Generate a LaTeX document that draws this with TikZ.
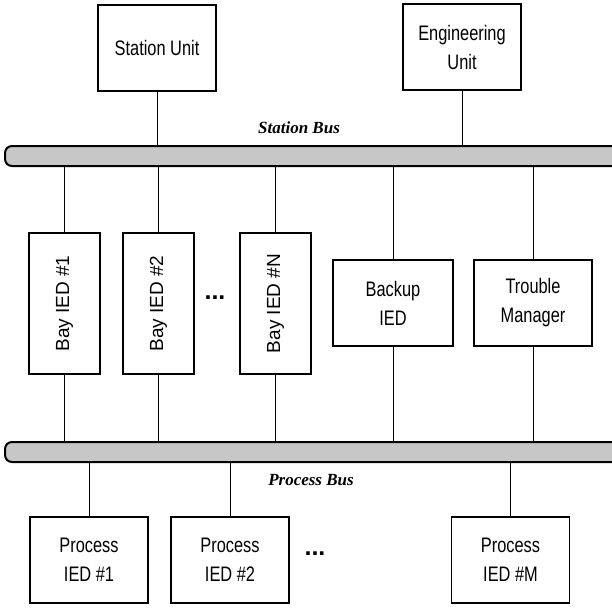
\documentclass[tikz,border=0pt]{standalone}
\usepackage{fontspec}
\setmainfont{Liberation Sans}
\newfontfamily\narrowsf[FakeStretch=0.78]{Liberation Sans}
\newfontfamily\busserif{Liberation Serif}
\usetikzlibrary{positioning}

\begin{document}
\begin{tikzpicture}[
  x=1pt, y=-1pt,
  font=\narrowsf\fontsize{21}{29}\selectfont,
  unit/.style={draw=black, line width=1.1pt, fill=white, minimum width=118pt,
               minimum height=86pt, inner sep=2pt, align=center},
  bay/.style={unit, minimum width=71pt, minimum height=141pt,
              font=\normalfont\fontsize{19}{22}\selectfont},
  bus/.style={draw=black, line width=2pt, fill=black!22, rounded corners=7pt,
              minimum height=20pt, minimum width=615pt, inner sep=0pt},
  link/.style={draw=black, line width=0.7pt},
  busname/.style={font=\busserif\bfseries\itshape\fontsize{17}{20}\selectfont},
  more/.style={font=\normalfont\bfseries\fontsize{25}{25}\selectfont}
]
\useasboundingbox (0,0) rectangle (612,607);

% ================================================= 1. station level
\node[unit] (su) at (157, 48) {Station Unit};
\node[unit] (eu) at (462, 47) {Engineering\\ Unit};
\node[bus] (sbus) at (312.5, 156) {};
\node[busname] (sbusname) at (299, 128) {Station Bus};
\draw[link] (su) -- (su |- sbus.north);
\draw[link] (eu) -- (eu |- sbus.north);

% ===================================================== 2. bay level
\node[bay] (bay1) at ( 64.5, 303.5) {\rotatebox{90}{Bay IED \#1}};
\node[bay] (bay2) at (158.5, 303.5) {\rotatebox{90}{Bay IED \#2}};
\node[more] (baydots) at (215, 298) {...};
\node[bay] (bayn) at (275.5, 303.5) {\rotatebox{90}{Bay IED \#N}};
\node[unit, minimum width=120pt] (bk) at (393, 303) {Backup\\ IED};
\node[unit] (tm) at (533, 303) {Trouble\\ Manager};

\node[bus] (pbus) at (312.5, 452) {};
\node[busname] (pbusname) at (311, 480) {Process Bus};

\foreach \b in {bay1, bay2, bayn, bk, tm} {
  \draw[link] (\b |- sbus.south) -- (\b);
  \draw[link] (\b) -- (\b |- pbus.north);
}

% ============================================ 3. process level
\node[unit] (pied1) at ( 89, 560) {Process\\ IED \#1};
\node[unit] (pied2) at (230, 560) {Process\\ IED \#2};
\node[more] (pdots) at (315, 554) {...};
\node[unit] (piedm) at (510.5, 560) {Process\\ IED \#M};

\foreach \p in {pied1, pied2, piedm}
  \draw[link] (\p |- pbus.south) -- (\p);

\end{tikzpicture}
\end{document}
